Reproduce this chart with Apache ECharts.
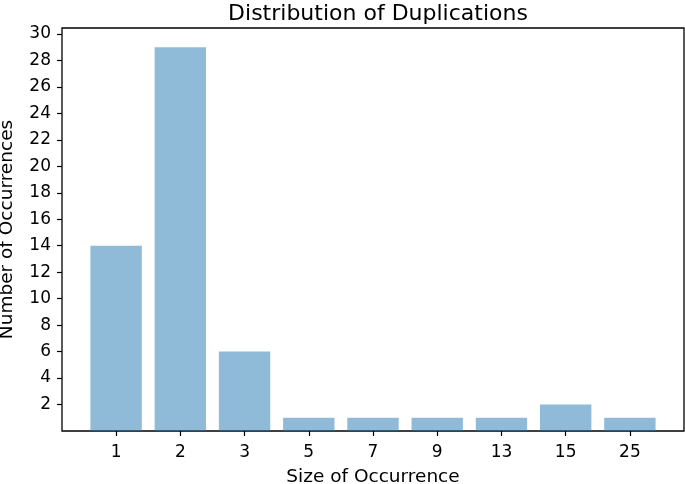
<!DOCTYPE html>
<html>
<head>
<meta charset="utf-8">
<script src="https://cdn.jsdelivr.net/npm/echarts@6/dist/echarts.min.js"></script>
<style>
    html, body { margin: 0; padding: 0; background: #fff; }
    #chart { width: 685px; height: 484px; }
</style>
</head>
<body>
<div id="chart"></div>
<script>
// sizes of occurrence and how often each happens
const categories = ['1', '2', '3', '5', '7', '9', '13', '15', '25']
const counts = [14, 29, 6, 1, 1, 1, 1, 2, 1]
const yTicks = [2, 4, 6, 8, 10, 12, 14, 16, 18, 20, 22, 24, 26, 28, 30]

const font = 'DejaVu Sans'
const yMax = 30.45

const chart = echarts.init(document.getElementById('chart'))

let option = {
    animation: false,
    textStyle: { fontFamily: font },
    title: {
        text: 'Distribution of Duplications',
        left: 373,
        top: -2,
        textAlign: 'center',
        textStyle: {
            fontFamily: font,
            fontSize: 22,
            fontWeight: 'normal',
            color: '#000'
        }
    },
    grid: [
        // outer frame, holds the y axis
        {
            left: 62, right: 1, top: 28, bottom: 53,
            outerBoundsMode: 'none',
            containLabel: false,
            show: true,
            borderColor: '#000',
            borderWidth: 1.3,
            backgroundColor: 'transparent'
        },
        // inner area for bars, sized like matplotlib's padded x range
        {
            left: 84, right: 23, top: 28, bottom: 53,
            outerBoundsMode: 'none',
            containLabel: false
        }
    ],
    xAxis: [
        {
            gridIndex: 0,
            type: 'value',
            min: 0,
            max: 1,
            name: 'Size of Occurrence',
            nameLocation: 'middle',
            nameGap: 37,
            nameTextStyle: { fontFamily: font, fontSize: 18.5, color: '#000' },
            axisLine: { show: false },
            axisTick: { show: false },
            axisLabel: { show: false },
            splitLine: { show: false }
        },
        {
            gridIndex: 1,
            type: 'category',
            data: categories,
            axisLine: { show: false },
            axisTick: {
                show: true,
                alignWithLabel: true,
                length: 5,
                lineStyle: { color: '#000', width: 1.2 }
            },
            axisLabel: {
                fontFamily: font,
                fontSize: 17,
                color: '#000',
                margin: 13
            },
            splitLine: { show: false }
        }
    ],
    yAxis: [
        {
            gridIndex: 0,
            type: 'value',
            min: 0,
            max: yMax,
            name: 'Number of Occurrences',
            nameLocation: 'middle',
            nameGap: 45,
            nameTextStyle: { fontFamily: font, fontSize: 18.5, color: '#000' },
            axisLine: { show: false },
            axisTick: {
                show: true,
                length: 5,
                customValues: yTicks,
                lineStyle: { color: '#000', width: 1.2 }
            },
            axisLabel: {
                fontFamily: font,
                fontSize: 17,
                color: '#000',
                margin: 11,
                customValues: yTicks
            },
            splitLine: { show: false }
        },
        {
            gridIndex: 1,
            type: 'value',
            min: 0,
            max: yMax,
            show: false
        }
    ],
    series: [
        {
            type: 'bar',
            xAxisIndex: 1,
            yAxisIndex: 1,
            barWidth: '80%',
            data: counts,
            itemStyle: { color: 'rgba(31, 119, 180, 0.5)' }
        }
    ]
}

chart.setOption(option)
</script>
</body>
</html>
